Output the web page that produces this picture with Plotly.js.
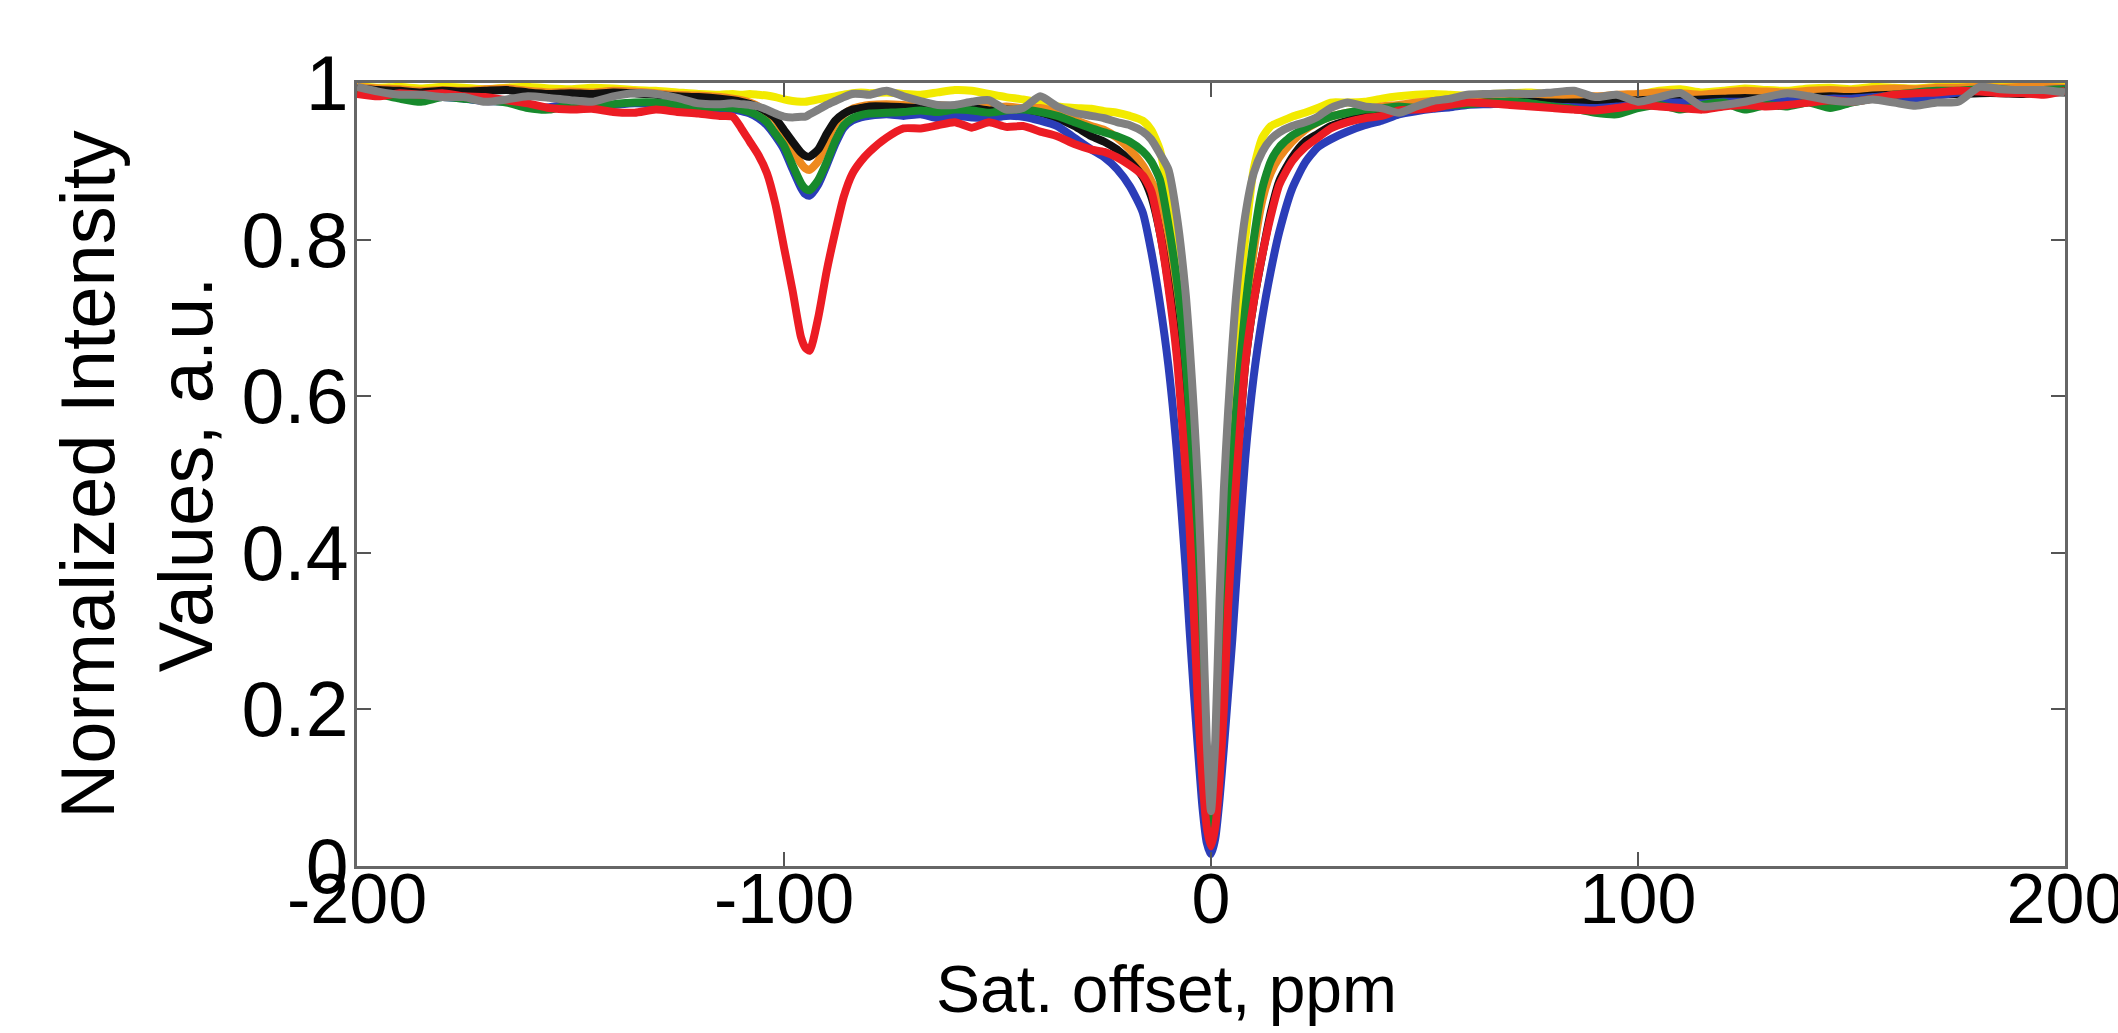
<!DOCTYPE html>
<html>
<head>
<meta charset="utf-8">
<script src="https://cdn.plot.ly/plotly-3.0.1.min.js"></script>
<style>
  html, body { margin: 0; padding: 0; background: #ffffff; }
  #chart { width: 2118px; height: 1033px; }
</style>
</head>
<body>
<div id="chart"></div>
<script>
// Saturation offsets (ppm), shared by all series
const offsets = [
  -200,-195,-190,-185,-180,-175,-170,-165,-160,-155,-150,-145,-140,-135,-130,-125,-120,-115,
  -112,-110,-108,-106,-104,-102,-100,-98,-96,-95,-94,-92,-90,-88,-86,-84,-82,-80,
  -76,-72,-68,-64,-60,-56,-52,-48,-44,-40,-36,-32,-28,
  -25,-22,-19,-16,-14,-12,-10,-8,-6,-5,-4,-3,-2,-1,0,1,2,3,4,5,6,8,10,12,14,16,19,22,25,
  28,32,36,40,44,48,52,56,60,
  65,70,75,80,85,90,95,100,105,110,115,120,125,130,135,140,145,150,155,160,165,170,175,180,185,190,195,200
];

const yellowSeries = [
  0.996,0.994,0.995,0.993,0.995,0.994,0.992,0.994,0.995,0.993,0.992,0.994,0.993,0.991,0.990,0.988,0.986,0.985,
  0.986,0.985,0.986,0.985,0.984,0.982,0.979,0.977,0.976,0.976,0.977,0.979,0.981,0.983,0.985,0.987,0.988,0.987,
  0.988,0.986,0.985,0.988,0.991,0.990,0.986,0.982,0.979,0.975,0.970,0.968,0.967,
  0.964,0.962,0.958,0.952,0.940,0.915,0.860,0.790,0.680,0.600,0.500,0.380,0.250,0.120,0.060,0.120,0.250,0.380,0.500,0.600,0.690,0.800,0.890,0.930,0.945,0.950,0.957,0.962,0.968,
  0.975,0.975,0.976,0.980,0.983,0.985,0.986,0.985,0.984,
  0.986,0.987,0.988,0.985,0.982,0.978,0.982,0.985,0.990,0.992,0.988,0.990,0.993,0.991,0.990,0.993,0.994,0.992,0.995,0.994,0.993,0.995,0.996,0.997,0.997,0.996,0.997,0.996
];

const orangeSeries = [
  0.995,0.993,0.992,0.990,0.991,0.990,0.992,0.993,0.990,0.988,0.989,0.988,0.990,0.989,0.987,0.985,0.984,0.982,
  0.980,0.978,0.975,0.970,0.962,0.953,0.935,0.915,0.897,0.891,0.889,0.900,0.925,0.948,0.960,0.967,0.970,0.972,
  0.973,0.972,0.970,0.972,0.970,0.972,0.968,0.970,0.968,0.968,0.962,0.953,0.945,
  0.940,0.930,0.915,0.895,0.875,0.850,0.800,0.730,0.620,0.550,0.450,0.330,0.180,0.080,0.040,0.080,0.170,0.300,0.410,0.500,0.580,0.690,0.785,0.850,0.885,0.905,0.925,0.940,0.950,
  0.957,0.962,0.966,0.970,0.972,0.975,0.977,0.978,0.980,
  0.982,0.983,0.984,0.985,0.984,0.983,0.985,0.986,0.988,0.987,0.985,0.988,0.990,0.989,0.988,0.990,0.991,0.990,0.992,0.993,0.992,0.994,0.994,0.995,0.994,0.995,0.995,0.994
];

const blackSeries = [
  0.993,0.991,0.990,0.988,0.990,0.989,0.990,0.991,0.988,0.986,0.987,0.986,0.988,0.987,0.985,0.983,0.982,0.980,
  0.978,0.976,0.973,0.969,0.963,0.955,0.940,0.925,0.911,0.907,0.906,0.915,0.935,0.952,0.961,0.966,0.968,0.970,
  0.970,0.969,0.968,0.969,0.967,0.968,0.965,0.966,0.964,0.962,0.955,0.945,0.932,
  0.925,0.915,0.900,0.880,0.855,0.810,0.745,0.660,0.530,0.440,0.330,0.210,0.120,0.050,0.030,0.050,0.110,0.200,0.320,0.420,0.500,0.640,0.720,0.780,0.835,0.875,0.905,0.925,0.935,
  0.945,0.952,0.958,0.962,0.966,0.968,0.970,0.972,0.974,
  0.975,0.976,0.976,0.975,0.975,0.976,0.977,0.978,0.979,0.978,0.979,0.980,0.981,0.980,0.981,0.982,0.983,0.982,0.984,0.985,0.984,0.985,0.986,0.987,0.987,0.986,0.988,0.988
];

const blueSeries = [
  0.992,0.987,0.983,0.980,0.982,0.980,0.977,0.976,0.970,0.969,0.973,0.970,0.972,0.974,0.973,0.971,0.969,0.967,
  0.966,0.964,0.961,0.955,0.946,0.932,0.915,0.890,0.866,0.858,0.856,0.870,0.895,0.922,0.943,0.952,0.956,0.958,
  0.960,0.958,0.960,0.955,0.958,0.956,0.955,0.958,0.957,0.952,0.945,0.930,0.915,
  0.905,0.890,0.868,0.835,0.785,0.720,0.640,0.530,0.385,0.300,0.220,0.145,0.075,0.030,0.015,0.035,0.085,0.150,0.220,0.290,0.370,0.520,0.625,0.700,0.760,0.810,0.865,0.898,0.918,
  0.928,0.938,0.946,0.952,0.960,0.964,0.967,0.969,0.972,
  0.973,0.974,0.972,0.970,0.969,0.968,0.970,0.972,0.975,0.975,0.974,0.976,0.976,0.978,0.977,0.978,0.980,0.980,0.982,0.984,0.980,0.984,0.988,0.990,0.990,0.990,0.991,0.992
];

const greenSeries = [
  0.990,0.986,0.980,0.976,0.982,0.980,0.978,0.975,0.968,0.966,0.972,0.970,0.973,0.975,0.975,0.972,0.970,0.969,
  0.968,0.966,0.963,0.958,0.950,0.935,0.920,0.895,0.872,0.865,0.863,0.876,0.899,0.926,0.946,0.955,0.959,0.961,
  0.962,0.963,0.965,0.963,0.966,0.965,0.962,0.965,0.966,0.963,0.958,0.950,0.942,
  0.937,0.932,0.925,0.913,0.900,0.877,0.820,0.748,0.645,0.570,0.450,0.320,0.180,0.085,0.040,0.085,0.180,0.310,0.430,0.520,0.590,0.710,0.800,0.865,0.900,0.918,0.933,0.942,0.950,
  0.957,0.962,0.966,0.968,0.970,0.968,0.970,0.972,0.973,
  0.975,0.976,0.974,0.970,0.967,0.962,0.960,0.968,0.972,0.966,0.972,0.975,0.966,0.972,0.970,0.975,0.968,0.975,0.980,0.985,0.988,0.990,0.990,0.992,0.992,0.990,0.991,0.992
];

const redSeries = [
  0.986,0.983,0.987,0.985,0.987,0.983,0.982,0.978,0.974,0.968,0.966,0.967,0.963,0.962,0.966,0.963,0.961,0.958,
  0.957,0.942,0.925,0.908,0.885,0.845,0.790,0.735,0.675,0.662,0.658,0.700,0.760,0.810,0.855,0.884,0.900,0.912,
  0.930,0.942,0.942,0.946,0.950,0.943,0.950,0.944,0.945,0.938,0.932,0.922,0.915,
  0.912,0.905,0.895,0.882,0.862,0.810,0.740,0.650,0.510,0.430,0.320,0.200,0.110,0.050,0.025,0.050,0.110,0.200,0.330,0.420,0.500,0.640,0.720,0.780,0.830,0.870,0.900,0.918,0.930,
  0.942,0.950,0.955,0.958,0.965,0.966,0.968,0.972,0.975,
  0.974,0.972,0.970,0.968,0.966,0.965,0.968,0.972,0.970,0.968,0.966,0.970,0.972,0.970,0.972,0.975,0.978,0.976,0.980,0.985,0.987,0.988,0.990,0.989,0.987,0.987,0.985,0.990
];

const graySeries = [
  0.995,0.989,0.985,0.985,0.982,0.982,0.976,0.979,0.983,0.981,0.978,0.976,0.983,0.987,0.986,0.981,0.974,0.973,
  0.974,0.973,0.972,0.970,0.966,0.961,0.957,0.956,0.957,0.957,0.960,0.966,0.972,0.977,0.982,0.986,0.986,0.985,
  0.990,0.983,0.977,0.972,0.972,0.976,0.978,0.966,0.968,0.983,0.970,0.962,0.958,
  0.955,0.950,0.946,0.938,0.928,0.910,0.890,0.830,0.735,0.665,0.580,0.480,0.340,0.160,0.070,0.160,0.340,0.480,0.580,0.665,0.735,0.830,0.885,0.912,0.928,0.937,0.945,0.950,0.957,
  0.968,0.975,0.970,0.968,0.962,0.970,0.977,0.980,0.985,
  0.986,0.987,0.986,0.988,0.990,0.982,0.985,0.976,0.982,0.987,0.970,0.972,0.976,0.982,0.987,0.983,0.978,0.976,0.979,0.975,0.971,0.975,0.976,0.995,0.992,0.991,0.991,0.988
];

const seriesList = [
  { name: 'yellow', y: yellowSeries, color: '#f2ea00' },
  { name: 'orange', y: orangeSeries, color: '#ee8a1e' },
  { name: 'black',  y: blackSeries,  color: '#111111' },
  { name: 'blue',   y: blueSeries,   color: '#2b3db8' },
  { name: 'green',  y: greenSeries,  color: '#178a2c' },
  { name: 'red',    y: redSeries,    color: '#ec1c24' },
  { name: 'gray',   y: graySeries,   color: '#808080' }
];

const xTicks = [-200, -100, 0, 100, 200];
const yTicks = [0, 0.2, 0.4, 0.6, 0.8, 1];
const yTickText = ['0', '0.2', '0.4', '0.6', '0.8', '1'];
const xTitle = 'Sat. offset, ppm';
const yTitle = 'Normalized Intensity<br>Values, a.u.';

const traces = seriesList.map(s => ({
  type: 'scatter',
  mode: 'lines',
  name: s.name,
  x: offsets,
  y: s.y,
  line: { color: s.color, width: 8, shape: 'spline', smoothing: 0.6 },
  hoverinfo: 'x+y'
}));

const fontFam = '"Liberation Sans", Arial, Helvetica, sans-serif';

const layout = {
  width: 2118,
  height: 1033,
  paper_bgcolor: '#ffffff',
  plot_bgcolor: '#ffffff',
  showlegend: false,
  margin: { l: 357, r: 53, t: 83, b: 167, pad: 0 },
  font: { family: fontFam, color: '#000000' },
  xaxis: {
    range: [-200, 200],
    tickvals: xTicks,
    ticktext: xTicks.map(String),
    ticks: 'inside',
    ticklen: 14,
    tickwidth: 2,
    tickcolor: '#555555',
    showline: true,
    linecolor: '#666666',
    linewidth: 3,
    mirror: 'ticks',
    showgrid: false,
    zeroline: false,
    ticklabeloverflow: 'allow',
    ticklabelstandoff: -30,
    tickfont: { family: fontFam, size: 70, color: '#000000' },
    automargin: false
  },
  yaxis: {
    range: [0, 1],
    tickvals: yTicks,
    ticktext: yTickText,
    ticks: 'inside',
    ticklen: 14,
    tickwidth: 2,
    tickcolor: '#555555',
    showline: true,
    linecolor: '#666666',
    linewidth: 3,
    mirror: 'ticks',
    showgrid: false,
    zeroline: false,
    ticklabelstandoff: -10,
    tickfont: { family: fontFam, size: 77, color: '#000000' },
    title: { text: yTitle, font: { family: fontFam, size: 76, color: '#000000' }, standoff: 4 },
    automargin: false
  },
  annotations: [{
    text: xTitle,
    xref: 'paper', yref: 'paper',
    x: 0.474, y: -0.157,
    xanchor: 'center', yanchor: 'middle',
    showarrow: false,
    font: { family: fontFam, size: 66, color: '#000000' }
  }]
};

Plotly.newPlot('chart', traces, layout, { displayModeBar: false, staticPlot: true });
</script>
</body>
</html>
